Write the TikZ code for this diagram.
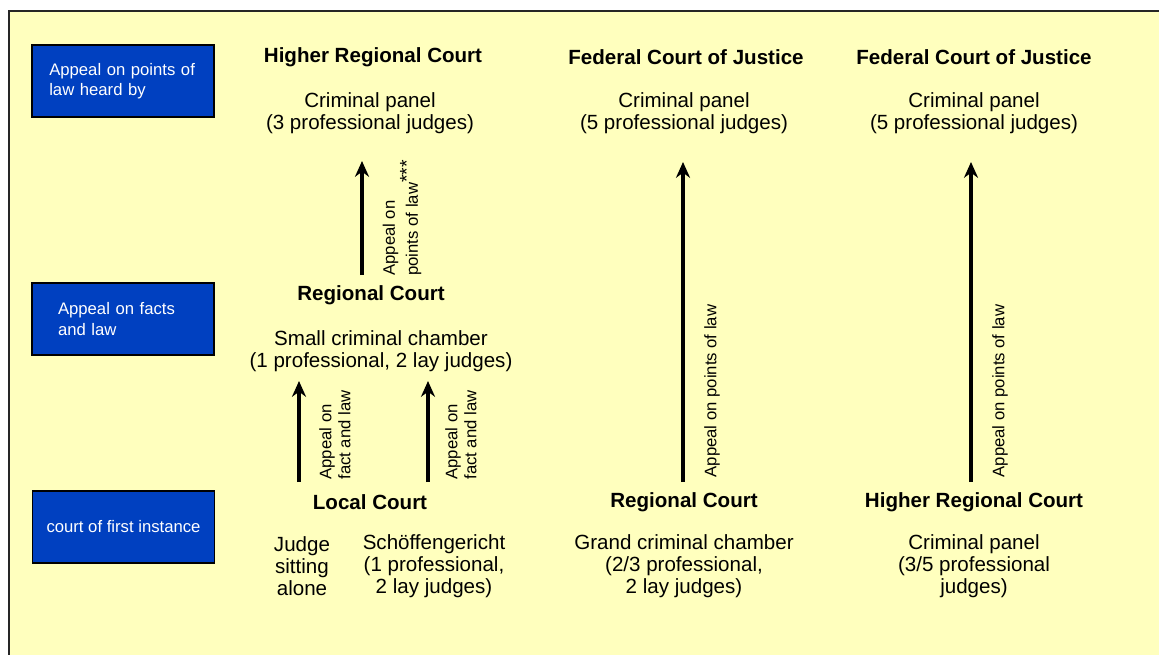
\documentclass[tikz,border=0pt]{standalone}
\usepackage{fontspec}
\setmainfont{Liberation Sans}
\usetikzlibrary{arrows.meta}

\definecolor{paneyellow}{RGB}{255,255,190}
\definecolor{levelblue}{RGB}{0,64,192}

\tikzset{
  courtname/.style={font=\fontsize{11.7}{12.5}\selectfont\bfseries},
  courtbody/.style={font=\fontsize{11.7}{12.5}\selectfont, align=center},
  levelbox/.style={draw=black, line width=1pt, fill=levelblue, text=white,
    font=\fontsize{9.5}{11.5}\selectfont, minimum width=3.64cm, minimum height=1.44cm},
  appeal/.style={line width=2.1pt, -{Stealth[length=9pt,width=8pt]}},
  appeallabel/.style={font=\fontsize{9.5}{10.8}\selectfont, align=left, rotate=90}
}

\begin{document}
\begin{tikzpicture}[x=0.02cm,y=-0.02cm]
	\useasboundingbox (0,0) rectangle (1159,654);
	\clip (0,0) rectangle (1159,654);

	%background
	\filldraw[draw=black!85,line width=1.1pt,fill=paneyellow] (9,11) rectangle (1180,680);

	%level boxes
	\node[levelbox,align=left,text width=2.95cm,inner xsep=0.32cm] (lvltop) at (123,81) {Appeal on points of\\law heard by};
	\node[levelbox,align=left,text width=2.6cm,inner xsep=0.44cm] (lvlmid) at (123,319) {Appeal on facts\\and law};
	\node[levelbox] (lvlbot) at (123.5,527) {court of first instance};

	%top row
	\node[courtname] (hrc) at (373,57) {Higher Regional Court};
	\node[courtbody] (hrcpanel) at (370,113) {Criminal panel\\(3 professional judges)};
	\node[courtname] (fcja) at (686,57) {Federal Court of Justice};
	\node[courtbody] (fcjapanel) at (684,113) {Criminal panel\\(5 professional judges)};
	\node[courtname] (fcjb) at (974,57) {Federal Court of Justice};
	\node[courtbody] (fcjbpanel) at (974,113) {Criminal panel\\(5 professional judges)};

	%middle row
	\node[courtname] (rcmid) at (371,295) {Regional Court};
	\node[courtbody] (rcsmall) at (381,351) {Small criminal chamber\\(1 professional, 2 lay judges)};

	%bottom row
	\node[courtname] (lc) at (370,502) {Local Court};
	\node[courtbody] (lcalone) at (302,566) {Judge\\sitting\\alone};
	\node[courtbody] (lcschoeff) at (434,566) {Schöffengericht\\(1 professional,\\2 lay judges)};
	\node[courtname] (rcbot) at (684,502) {Regional Court};
	\node[courtbody] (rcgrand) at (684,566) {Grand criminal chamber\\(2/3 professional,\\2 lay judges)};
	\node[courtname] (hrcbot) at (974,502) {Higher Regional Court};
	\node[courtbody] (hrcbotpanel) at (974,566) {Criminal panel\\(3/5 professional\\judges)};

	%arrow ends
	\coordinate (upfrom) at (362,275);   \coordinate (upto) at (362,161);
	\coordinate (alfrom) at (299,482);   \coordinate (alto) at (299,381);
	\coordinate (scfrom) at (428,482);   \coordinate (scto) at (428,381);
	\coordinate (rcfrom) at (683,482);   \coordinate (rcto) at (683,162);
	\coordinate (hrfrom) at (971,482);   \coordinate (hrto) at (971,162);

	%arrows
	\draw[appeal] (upfrom) -- (upto);
	\draw[appeal] (alfrom) -- (alto);
	\draw[appeal] (scfrom) -- (scto);
	\draw[appeal] (rcfrom) -- (rcto);
	\draw[appeal] (hrfrom) -- (hrto);

	%arrow labels
	\node[appeallabel] (uplbl) at (402,218) {Appeal on\\points of law\raisebox{0.5ex}{\fontsize{11}{11}\selectfont***}};
	\node[appeallabel] (allbl) at (335,435) {Appeal on\\fact and law};
	\node[appeallabel] (sclbl) at (461,435) {Appeal on\\fact and law};
	\node[appeallabel] (rclbl) at (712,391) {Appeal on points of law};
	\node[appeallabel] (hrlbl) at (1000,391) {Appeal on points of law};
\end{tikzpicture}
\end{document}
